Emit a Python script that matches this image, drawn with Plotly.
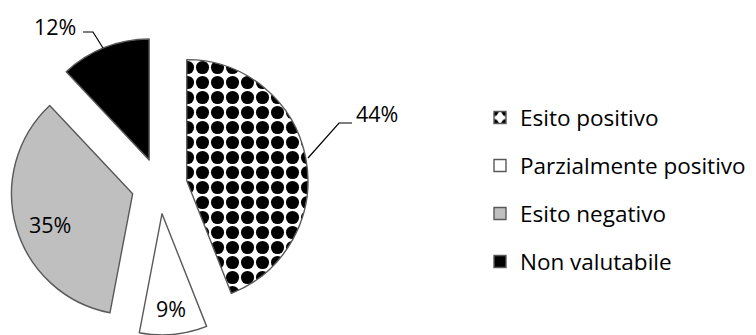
import plotly.graph_objects as go

# ---- data ----
categories = ["Esito positivo", "Parzialmente positivo", "Esito negativo", "Non valutabile"]
values = [44, 9, 35, 12]

# ---- style ----
W, H = 756, 335
FONT = "Open Sans"
slice_colors = ["#ffffff", "#ffffff", "#bfbfbf", "#000000"]
pattern_shapes = [".", "", "", ""]
text_pos = ["none", "inside", "none", "none"]

def px(x):
    return x / W

def py(y):
    return 1 - y / H

legend_labels = [
    '<span style="font-size:22.5px;baseline-shift:5.5px">%s</span>' % c for c in categories
]

fig = go.Figure()
fig.add_trace(go.Pie(
    labels=legend_labels,
    values=values,
    sort=False,
    direction="clockwise",
    rotation=0,
    pull=[0.23] * len(values),
    marker=dict(
        colors=slice_colors,
        line=dict(color="#595959", width=1.4),
        pattern=dict(shape=pattern_shapes, fgcolor="#000000", bgcolor="#ffffff",
                     fillmode="replace", size=15, solidity=0.6),
    ),
    texttemplate="%{percent:.0%}",
    textposition=text_pos,
    insidetextorientation="horizontal",
    textfont=dict(family=FONT, size=21.5, color="#000000"),
    domain=dict(x=[0, px(318.8)], y=[0, py(37)]),
    hoverinfo="none",
    showlegend=True,
))

# labels placed like the original (outside ones with leader lines)
label_font = dict(family=FONT, size=21.5, color="#000000")
fig.add_annotation(x=px(377), y=py(114), xref="paper", yref="paper", text="44%",
                   xanchor="center", yanchor="middle", showarrow=False, font=label_font)
fig.add_annotation(x=px(55), y=py(26), xref="paper", yref="paper", text="12%",
                   xanchor="center", yanchor="middle", showarrow=False, font=label_font)
fig.add_annotation(x=px(50), y=py(224), xref="paper", yref="paper", text="35%",
                   xanchor="center", yanchor="middle", showarrow=False, font=label_font)
fig.add_shape(type="path", xref="paper", yref="paper",
              path=f"M {px(352)},{py(123)} L {px(339)},{py(123)} L {px(308)},{py(158)}",
              line=dict(color="#000000", width=1.2))
fig.add_shape(type="path", xref="paper", yref="paper",
              path=f"M {px(83)},{py(32)} L {px(93)},{py(32)} L {px(103)},{py(48)}",
              line=dict(color="#000000", width=1.2))

fig.update_layout(
    width=W, height=H,
    margin=dict(l=0, r=0, t=0, b=0),
    paper_bgcolor="#ffffff",
    plot_bgcolor="#ffffff",
    showlegend=True,
    legend=dict(
        x=px(480), xanchor="left",
        y=py(189.5), yanchor="middle",
        font=dict(family=FONT, size=34.6, color="#000000"),
        bgcolor="rgba(0,0,0,0)",
        traceorder="normal",
    ),
)

fig.write_html("out.html")
